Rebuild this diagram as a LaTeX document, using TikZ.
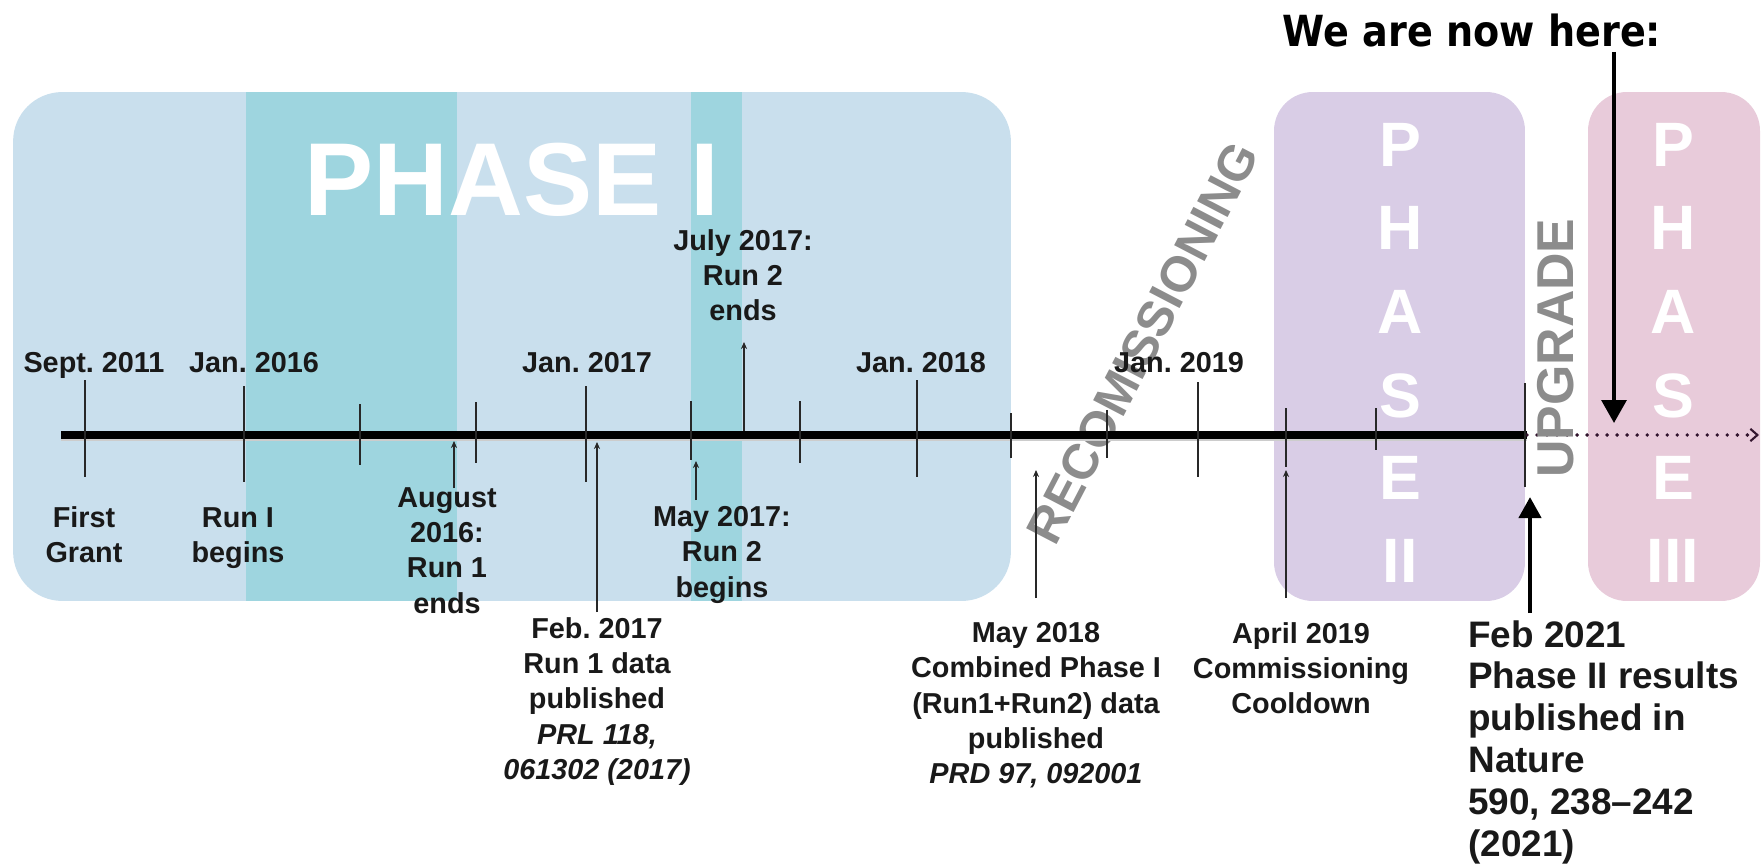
\documentclass[tikz,border=0pt]{standalone}
\usepackage{fontspec}
\setmainfont{Liberation Sans}
\newfontfamily\nowfont{DejaVu Sans}
\usetikzlibrary{arrows.meta}
\definecolor{phaseone}{RGB}{201,223,237}
\definecolor{tealband}{RGB}{158,213,223}
\definecolor{phasetwo}{RGB}{217,205,230}
\definecolor{phasethree}{RGB}{232,203,218}
\definecolor{graytxt}{RGB}{140,140,140}
\definecolor{tickc}{RGB}{40,40,40}
\definecolor{dotc}{RGB}{50,20,45}
\frenchspacing
\begin{document}
\begin{tikzpicture}[x=0.02cm,y=-0.02cm,
  lbl/.style={font=\fontsize{16.4}{20.1}\selectfont\bfseries, align=center, inner sep=0, anchor=north, text=black!90},
  datelbl/.style={font=\fontsize{16.4}{20.1}\selectfont\bfseries, inner sep=0, anchor=base, text=black!90},
  biglbl/.style={font=\fontsize{21}{23.8}\selectfont\bfseries, align=left, inner sep=0, anchor=north west, text=black!90},
  tickline/.style={line width=1.1pt, draw=tickc},
  smallarr/.style={line width=0.9pt, draw=tickc, -{Stealth[length=4pt,width=3.5pt]}},
  bigarr/.style={line width=2.6pt, draw=black, -{Triangle[length=12pt,width=12.5pt]}},
  phaseletter/.style={font=\fontsize{35.7}{40}\selectfont\bfseries, text=white, inner sep=0},
  grayword/.style={text=graytxt, inner sep=0, font=\bfseries},
  phasebox/.style={inner sep=0, outer sep=0, draw=none},
]
\useasboundingbox (0,0) rectangle (1761,868);

% phase boxes
\node[phasebox, fill=phaseone, rounded corners=28pt, minimum width=19.96cm, minimum height=10.18cm] (p1box) at (512,346.5) {};
\fill[tealband] (246,92) rectangle (457,601);
\fill[tealband] (691,92) rectangle (742,601);
\node[phasebox, fill=phasetwo, rounded corners=22pt, minimum width=5.02cm, minimum height=10.18cm] (p2box) at (1399.5,346.5) {};
\node[phasebox, fill=phasethree, rounded corners=22pt, minimum width=3.44cm, minimum height=10.18cm] (p3box) at (1674,346.5) {};

% titles
\node[phaseletter, font=\fontsize{59}{60}\selectfont\bfseries] (p1title) at (512,180) {PHASE I};
\foreach \t/\y [count=\i] in {P/145, H/228, A/312, S/396, E/478, II/561}{
  \node[phaseletter] (ptwo\i) at (1400,\y) {\t};
}
\foreach \t/\y [count=\i] in {P/145, H/228, A/312, S/396, E/478, III/561}{
  \node[phaseletter] (pthree\i) at (1673,\y) {\t};
}
\node[grayword, font=\fontsize{28.4}{30}\selectfont\bfseries, rotate=62.5] (recom) at (1143,343) {RECOMISSIONING};

% axis
\coordinate (axL) at (61,435);
\coordinate (axR) at (1527,435);
\coordinate (axEnd) at (1759,435);
\draw[line width=2.5pt, black!20] (61,439) -- (1527,439);
\draw[line width=4pt, black] (axL) -- (axR);
\draw[line width=2.2pt, dotc, line cap=round, dash pattern=on 0pt off 5.7pt, -{Straight Barb[length=4pt,width=7pt,line width=1.2pt]}] (axR) -- (axEnd);
\node[grayword, font=\fontsize{29.5}{30}\selectfont\bfseries, rotate=90] (upgrade) at (1556,348) {UPGRADE};

% ticks
\foreach \x/\a/\b in {85/380/477, 244/386/482, 360/404/465, 476/402/463, 586/386/482, 691/401/460, 800/401/463, 917/380/477, 1011/413/458, 1107/410/458, 1198/382/477, 1286/408/467, 1376/408/450, 1525/383/487}{
  \draw[tickline] (\x,\a) -- (\x,\b);
}

% date labels
\node[datelbl] (d2011) at (94,372) {Sept. 2011};
\node[datelbl] (d2016) at (254,372) {Jan. 2016};
\node[datelbl] (d2017) at (587,372) {Jan. 2017};
\node[datelbl] (d2018) at (921,372) {Jan. 2018};
\node[datelbl] (d2019) at (1179,372) {Jan. 2019};

% event labels
\node[lbl] (first) at (84,506) {First\\Grant};
\node[lbl] (runI) at (238,507) {Run I\\begins};
\node[lbl] (aug) at (447,487) {August\\2016:\\Run 1\\ends};
\node[lbl] (feb17) at (597,617) {Feb. 2017\\Run 1 data\\published\\{\itshape PRL 118,}\\{\itshape 061302 (2017)}};
\node[lbl] (may17) at (722,506) {May 2017:\\Run 2\\begins};
\node[lbl] (jul17) at (743,229) {July 2017:\\Run 2\\ends};
\node[lbl] (may18) at (1036,622) {May 2018\\Combined Phase I\\(Run1+Run2) data\\published\\{\itshape PRD 97, 092001}};
\node[lbl] (apr19) at (1301,622) {April 2019\\Commissioning\\Cooldown};
\node[biglbl] (feb21) at (1468,620) {Feb 2021\\Phase II results\\published in\\Nature\\590, 238--242\\(2021)};
\node[inner sep=0, anchor=base, font=\nowfont\fontsize{24.4}{26}\selectfont\bfseries] (now) at (1472,47) {\scalebox{0.89}[1]{We are now here:}};

% arrows
\coordinate (augB) at (454,488);   \coordinate (augT) at (454,441);
\coordinate (feb17B) at (597,612); \coordinate (feb17T) at (597,442);
\coordinate (may17B) at (696,500); \coordinate (may17T) at (696,461);
\coordinate (jul17B) at (744,431); \coordinate (jul17T) at (744,342);
\coordinate (may18B) at (1036,598); \coordinate (may18T) at (1036,470);
\coordinate (apr19B) at (1286,598); \coordinate (apr19T) at (1286,470);
\coordinate (feb21B) at (1530,613); \coordinate (feb21T) at (1530,497);
\coordinate (nowB) at (1614,52); \coordinate (nowT) at (1614,423);
\draw[smallarr] (augB) -- (augT);
\draw[smallarr] (feb17B) -- (feb17T);
\draw[smallarr] (may17B) -- (may17T);
\draw[smallarr] (jul17B) -- (jul17T);
\draw[smallarr] (may18B) -- (may18T);
\draw[smallarr] (apr19B) -- (apr19T);
\draw[bigarr] (feb21B) -- (feb21T);
\draw[line width=2.2pt, -{Triangle[length=13pt,width=14pt]}] (nowB) -- (nowT);
\end{tikzpicture}
\end{document}
